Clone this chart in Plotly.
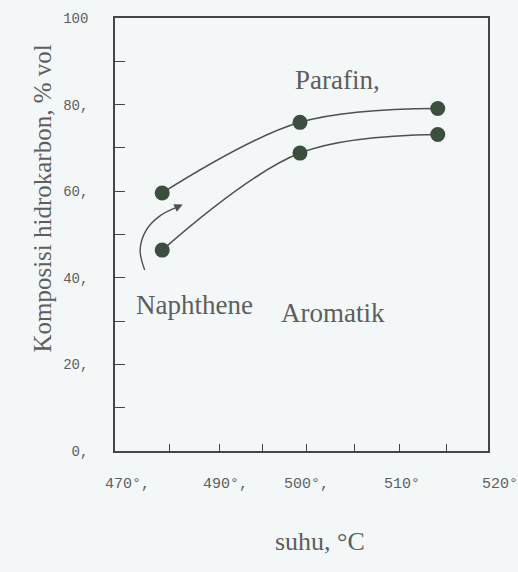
import plotly.graph_objects as go

# ---- data ----
suhu = [476.2, 494.3, 512.4]              # temperature, deg C (as drawn)
parafin = [59.6, 75.9, 79.1]              # upper curve, % vol
aromatik = [46.4, 68.8, 73.1]             # lower curve, % vol

y_ticks = [0, 20, 40, 60, 80, 100]
y_tick_text = ["0,", "20,", "40,", "60,", "80,", "100"]
y_minor = [10, 30, 50, 70, 90]

x_tick_marks = [477.1, 483.7, 489.4, 495.2, 501.4, 507.4, 513.5]
x_label_pos = [471.7, 484.5, 495.2, 507.7, 520.6]
x_label_text = ["470°,", "490°,", "500°,", "510°", "520°"]

arrow_x = [473.9, 473.3, 474.1, 475.9, 478.0]
arrow_y = [41.8, 46.4, 51.0, 54.3, 56.2]

XMIN, XMAX = 470, 519
YMIN, YMAX = 0, 100

BG = "#f3f7f8"
INK = "#454545"
TXT = "#5e5e5e"
DOT = "#3c4e3d"
SERIF = "Liberation Serif, Times New Roman, serif"
MONO = "Liberation Mono, Courier New, monospace"

fig = go.Figure()

for ys in (parafin, aromatik):
    fig.add_trace(go.Scatter(
        x=suhu, y=ys, mode="lines",
        line=dict(color="#505050", width=1.6, shape="spline", smoothing=1.0),
        showlegend=False, hoverinfo="skip"))
for ys in (parafin, aromatik):
    fig.add_trace(go.Scatter(
        x=suhu, y=ys, mode="markers",
        marker=dict(color=DOT, size=15, line=dict(width=0)),
        showlegend=False))

# curved arrow (Naphthene -> Parafin)
fig.add_trace(go.Scatter(
    x=arrow_x, y=arrow_y, mode="lines",
    line=dict(color="#505050", width=1.4, shape="spline"),
    showlegend=False, hoverinfo="skip"))

annotations = []
annotations.append(dict(x=478.9, y=56.9, ax=arrow_x[-1], ay=arrow_y[-1],
                        xref="x", yref="y", axref="x", ayref="y",
                        showarrow=True, arrowhead=2, arrowsize=1.2,
                        arrowwidth=1.4, arrowcolor="#505050", text=""))

for txt, x, y in [("Parafin,", 499.2, 85.7),
                  ("Naphthene", 480.5, 33.7),
                  ("Aromatik", 498.6, 31.9)]:
    annotations.append(dict(x=x, y=y, xref="x", yref="y", text=txt,
                            showarrow=False,
                            font=dict(family=SERIF, size=27, color=TXT)))

for pos, txt in zip(x_label_pos, x_label_text):
    annotations.append(dict(x=(pos - XMIN) / (XMAX - XMIN), y=-0.078,
                            xref="paper", yref="paper", text=txt,
                            showarrow=False, xanchor="center", yanchor="middle",
                            font=dict(family=MONO, size=15, color=TXT)))

annotations.append(dict(x=0.55, y=-0.247, xref="paper", yref="paper",
                        text="suhu, °C", showarrow=False,
                        font=dict(family=SERIF, size=26, color=TXT)))
annotations.append(dict(x=-0.236, y=0.584, xref="paper", yref="paper",
                        text="Komposisi hidrokarbon, % vol", showarrow=False,
                        textangle=-90,
                        font=dict(family=SERIF, size=25, color=TXT)))

fig.update_layout(
    width=518, height=572,
    margin=dict(l=115, r=30, t=18, b=121),
    paper_bgcolor=BG, plot_bgcolor=BG,
    annotations=annotations,
    xaxis=dict(range=[XMIN, XMAX], showgrid=False, zeroline=False,
               showline=True, linecolor=INK, linewidth=1.6, mirror=True,
               tickmode="array", tickvals=x_tick_marks,
               ticks="inside", ticklen=7, tickcolor=INK, tickwidth=1.3,
               showticklabels=False),
    yaxis=dict(range=[YMIN, YMAX], showgrid=False, zeroline=False,
               showline=True, linecolor=INK, linewidth=1.6, mirror=True,
               tickmode="array", tickvals=y_ticks, ticktext=y_tick_text,
               ticks="inside", ticklen=10, tickcolor=INK, tickwidth=1.3,
               ticklabelstandoff=22,
               tickfont=dict(family=MONO, size=14, color=TXT),
               minor=dict(tickmode="array", tickvals=y_minor, ticks="inside",
                          ticklen=10, tickcolor=INK, tickwidth=1.3)),
)

fig.write_html("out.html")
